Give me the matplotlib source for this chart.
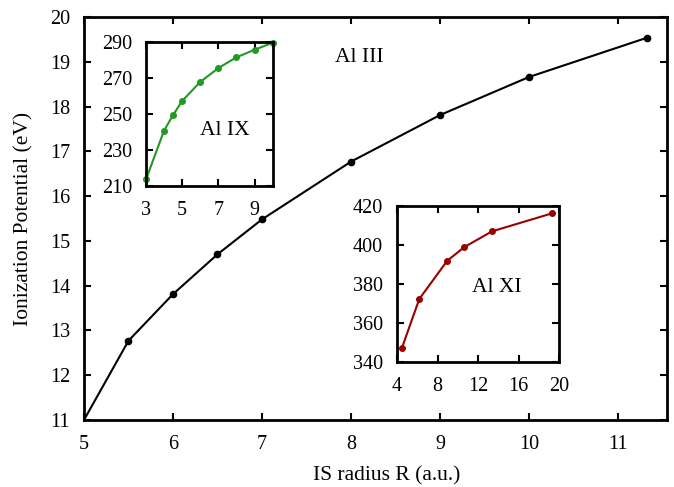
import matplotlib
matplotlib.use('Agg')
import matplotlib.pyplot as plt

plt.rcParams['font.family'] = ['Liberation Serif', 'DejaVu Serif']
plt.rcParams['font.size'] = 15.5

# Al III (main panel)
r_main = [5.0, 5.5, 6.0, 6.5, 7.0, 8.0, 9.0, 10.0, 11.33]
ip_main = [11.0, 12.77, 13.81, 14.70, 15.48, 16.77, 17.81, 18.66, 19.54]

# Al IX (upper inset)
r_ix = [3, 4, 4.5, 5, 6, 7, 8, 9, 10]
ip_ix = [213.7, 240.9, 249.6, 257.4, 268.0, 275.7, 281.7, 285.9, 289.8]

# Al XI (lower inset)
r_xi = [4.47, 6.2, 8.95, 10.63, 13.36, 19.25]
ip_xi = [346.8, 372.2, 391.8, 398.8, 406.9, 416.1]


def style_axes(ax):
    for s in ax.spines.values():
        s.set_linewidth(2)
    ax.tick_params(direction='in', top=True, right=True, length=5, width=1.5,
                   labelsize=14.5)
    ax.tick_params(axis='x', pad=11)
    ax.tick_params(axis='y', pad=10)


fig = plt.figure(figsize=(6.74, 4.87), dpi=100)

ax = fig.add_axes([0.1246, 0.1376, 0.8650, 0.8275])
ax.plot(r_main, ip_main, color='black', lw=1.5, marker='o', ms=4.5,
        markevery=slice(1, None))
ax.set_xlim(5, 11.55)
ax.set_ylim(11, 20)
ax.set_xticks(range(5, 12))
ax.set_yticks(range(11, 21))
ax.set_xlabel('IS radius R (a.u.)', va='center')
ax.set_ylabel('Ionization Potential (eV)', va='center')
ax.xaxis.set_label_coords(0.52, -0.139)
ax.yaxis.set_label_coords(-0.103, 0.5)
ax.text(8.09, 19.1, 'Al III', ha='center', va='center')
style_axes(ax)

ax1 = fig.add_axes([0.2166, 0.618, 0.188, 0.295])
ax1.plot(r_ix, ip_ix, color='#229922', lw=1.5, marker='o', ms=4, clip_on=False)
ax1.set_xlim(3, 10)
ax1.set_ylim(210, 290)
ax1.set_xticks([3, 5, 7, 9])
ax1.set_yticks([210, 230, 250, 270, 290])
ax1.text(7.36, 241, 'Al IX', ha='center', va='center')
style_axes(ax1)

ax2 = fig.add_axes([0.589, 0.2573, 0.2408, 0.320])
ax2.plot(r_xi, ip_xi, color='#990000', lw=1.5, marker='o', ms=4, clip_on=False)
ax2.set_xlim(4, 20)
ax2.set_ylim(340, 420)
ax2.set_xticks([4, 8, 12, 16, 20])
ax2.set_yticks([340, 360, 380, 400, 420])
ax2.text(13.85, 378.3, 'Al XI', ha='center', va='center')
style_axes(ax2)

fig.savefig('out.png', dpi=100)
